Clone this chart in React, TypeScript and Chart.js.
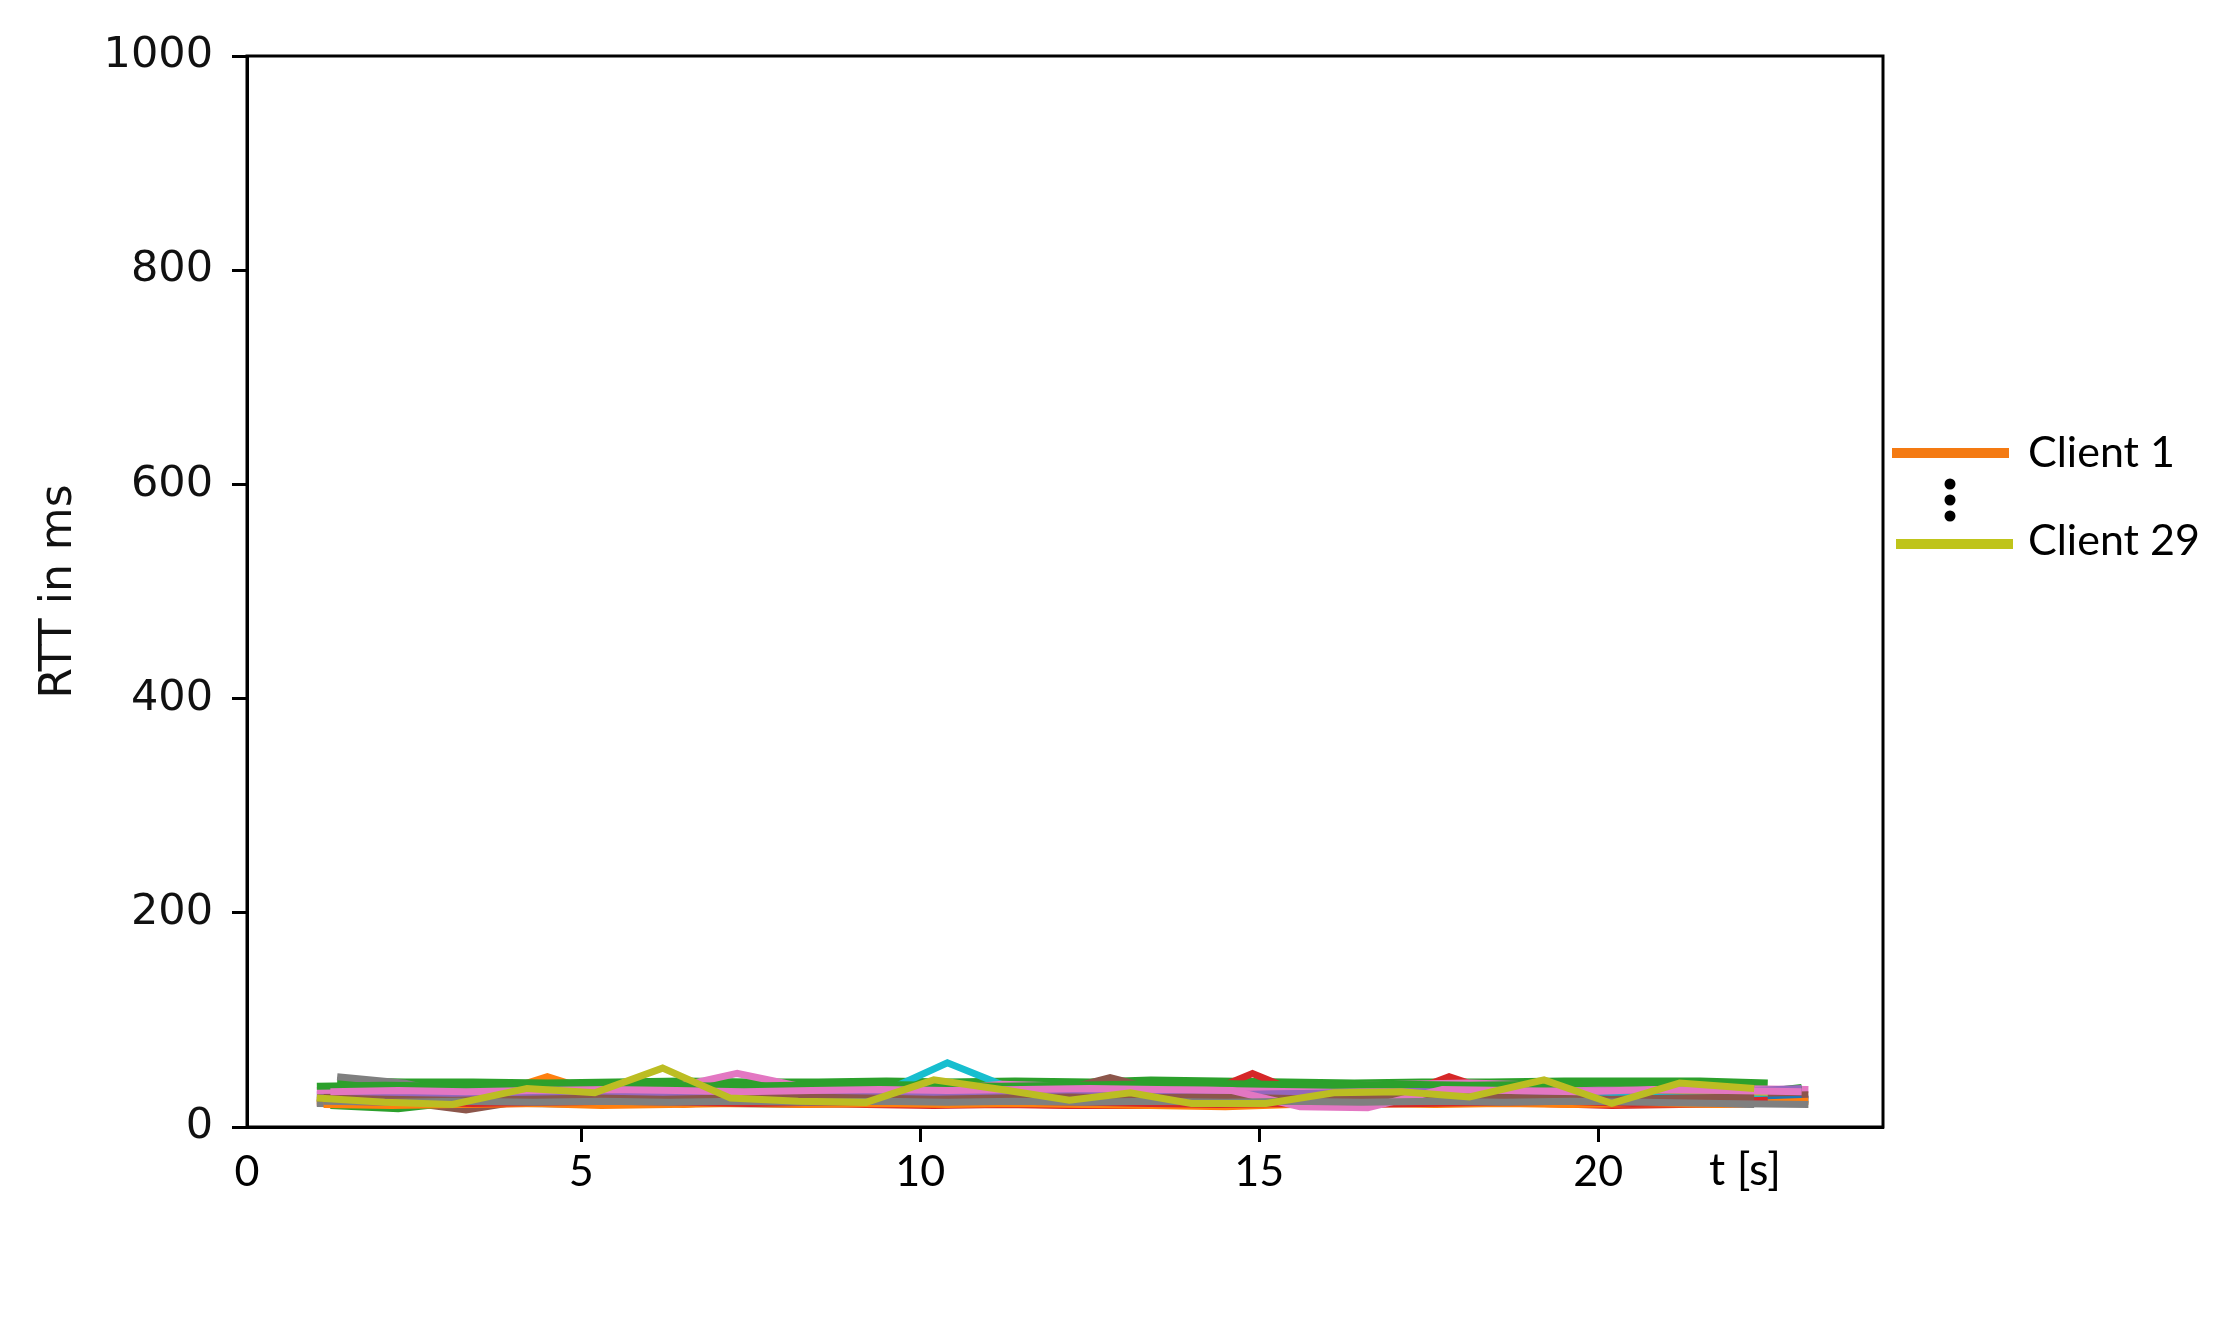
import React, { useEffect, useRef } from 'react';
import { Chart, registerables } from 'chart.js';

Chart.register(...registerables);

// ---- axis / label data ----
const X_TICKS = [0, 5, 10, 15, 20];
const Y_MIN = 0;
const Y_MAX = 1000;
const Y_STEP = 200;
const X_MIN = 0.07;
const X_MAX = 24.2;
const X_TITLE = 't [s]';
const Y_TITLE = 'RTT in ms';
const LEGEND_LABELS = ['Client 1', 'Client 29'];
const LEGEND_COLORS = ['#f47a12', '#bfc41a'];

// ---- sample times (s) ----
const T1 = [1.1, 2.1, 3.1, 4.2, 5.2, 6.2, 7.2, 8.2, 9.2, 10.2, 11.2, 12.2, 13.1, 14.0, 15.1, 16.1, 17.1, 18.1, 19.2, 20.2, 21.2, 22.3];
const T2 = [1.4, 2.4, 3.4, 4.5, 5.5, 6.5, 7.5, 8.5, 9.5, 10.4, 11.4, 12.5, 13.4, 14.4, 15.4, 16.4, 17.4, 18.4, 19.5, 20.5, 21.5, 22.5];
const T3 = [1.3, 2.3, 3.3, 4.3, 5.4, 6.4, 7.4, 8.4, 9.4, 10.4, 11.5, 12.5, 13.5, 14.6, 15.6, 16.6, 17.7, 18.7, 19.7, 20.8, 21.9, 23.0];
const T4 = [1.2, 2.2, 3.2, 4.3, 5.3, 6.3, 7.3, 8.3, 9.4, 10.4, 11.4, 12.4, 13.4, 14.5, 15.5, 16.5, 17.6, 18.6, 19.6, 20.7, 21.8, 23.1];
const T5 = [1.2, 2.3, 3.3, 4.4, 5.4, 6.5, 7.5, 8.6, 9.6, 10.7, 11.7, 12.8, 13.8, 14.9, 15.9, 16.8, 17.8, 18.8, 19.8, 20.8, 21.9, 22.9];

// ---- RTT values (ms) per client ----
const client01 = [28, 27, 29, 30, 29, 28, 30, 29, 28, 30, 29, 28, 29, 30, 28, 27, 29, 28, 27, 24, 27, 26];
const client02 = [22, 24, 25, 47, 27, 21, 26, 30, 29, 28, 27, 26, 22, 21, 24, 26, 25, 24, 23, 25, 24, 27];
const client03 = [43, 42, 42, 41, 42, 43, 42, 42, 43, 42, 43, 42, 44, 43, 42, 41, 42, 42, 43, 43, 43, 41];
const client04 = [26, 25, 24, 25, 26, 25, 24, 23, 24, 22, 21, 20, 21, 50, 24, 23, 47, 26, 22, 21, 22, 30];
const client05 = [30, 31, 30, 32, 31, 30, 31, 30, 31, 33, 32, 31, 30, 31, 30, 32, 33, 31, 30, 31, 33, 32];
const client06 = [26, 24, 16, 27, 28, 29, 28, 29, 28, 27, 28, 46, 30, 28, 29, 28, 27, 28, 27, 28, 29, 29];
const client07 = [36, 35, 36, 36, 35, 36, 50, 37, 36, 36, 37, 36, 35, 36, 37, 38, 38, 37, 36, 37, 36, 35];
const client08 = [47, 41, 27, 25, 24, 25, 24, 25, 24, 25, 24, 25, 24, 23, 24, 25, 24, 23, 24, 23, 23, 22];
const client09 = [25, 24, 25, 26, 25, 24, 25, 26, 25, 24, 25, 26, 25, 24, 25, 26, 25, 24, 25, 24, 25, 24];
const client10 = [29, 28, 29, 30, 29, 30, 29, 30, 31, 60, 32, 30, 29, 30, 29, 28, 29, 30, 29, 28, 29, 28];
const client11 = [33, 32, 33, 32, 33, 34, 33, 32, 33, 34, 33, 32, 33, 34, 33, 32, 33, 32, 31, 30, 29, 30];
const client12 = [30, 29, 28, 30, 31, 30, 31, 37, 36, 35, 36, 35, 34, 33, 32, 31, 32, 31, 30, 31, 30, 34];
const client13 = [20, 17, 24, 26, 27, 26, 27, 28, 27, 28, 27, 28, 27, 26, 27, 28, 27, 26, 27, 28, 29, 37];
const client14 = [23, 22, 21, 22, 23, 22, 23, 22, 21, 20, 21, 20, 20, 21, 22, 23, 24, 23, 22, 20, 21, 22];
const client15 = [31, 30, 29, 30, 31, 30, 29, 30, 31, 30, 32, 31, 30, 31, 32, 33, 34, 33, 32, 31, 33, 36];
const client16 = [28, 27, 26, 27, 28, 27, 28, 27, 28, 27, 28, 27, 28, 29, 28, 27, 28, 27, 28, 29, 28, 30];
const client17 = [34, 35, 34, 36, 35, 34, 35, 36, 35, 34, 40, 38, 37, 36, 37, 38, 40, 41, 39, 37, 36, 35];
const client18 = [22, 21, 22, 22, 21, 22, 22, 21, 22, 23, 22, 22, 23, 22, 22, 23, 22, 22, 23, 22, 22, 21];
const client19 = [26, 27, 26, 27, 28, 27, 26, 27, 26, 27, 26, 27, 31, 30, 29, 30, 31, 30, 29, 28, 29, 28];
const client20 = [27, 26, 27, 28, 27, 26, 27, 26, 27, 28, 27, 26, 27, 26, 27, 28, 27, 26, 27, 28, 27, 26];
const client21 = [25, 24, 25, 26, 25, 26, 25, 24, 25, 26, 25, 24, 25, 26, 25, 24, 23, 24, 25, 23, 24, 26];
const client22 = [21, 20, 21, 22, 20, 21, 22, 21, 22, 21, 22, 21, 20, 19, 21, 22, 21, 22, 21, 22, 21, 24];
const client23 = [38, 39, 38, 39, 40, 39, 38, 39, 40, 39, 38, 39, 40, 41, 40, 39, 40, 39, 40, 41, 40, 39];
const client24 = [24, 23, 22, 23, 24, 23, 22, 23, 24, 25, 24, 23, 22, 21, 22, 21, 22, 23, 24, 22, 23, 25];
const client25 = [29, 28, 29, 28, 29, 30, 29, 30, 29, 30, 31, 30, 29, 30, 31, 32, 31, 32, 33, 34, 35, 34];
const client26 = [27, 26, 25, 26, 27, 26, 27, 28, 27, 26, 27, 28, 27, 28, 27, 26, 27, 28, 27, 26, 27, 28];
const client27 = [33, 34, 33, 34, 35, 34, 33, 34, 35, 34, 35, 36, 35, 34, 19, 18, 35, 34, 33, 35, 34, 33];
const client28 = [24, 23, 24, 23, 24, 23, 24, 23, 24, 23, 24, 23, 24, 23, 24, 23, 24, 23, 24, 23, 22, 21];
const client29 = [27, 23, 21, 36, 32, 55, 27, 24, 23, 44, 35, 25, 32, 22, 22, 32, 33, 28, 44, 22, 41, 36];

const SERIES = [
  client01, client02, client03, client04, client05, client06, client07, client08, client09, client10,
  client11, client12, client13, client14, client15, client16, client17, client18, client19, client20,
  client21, client22, client23, client24, client25, client26, client27, client28, client29,
];
const SERIES_TIMES = [
  T4, T2, T2, T5, T1, T5, T4, T2, T1, T3,
  T2, T3, T3, T1, T3, T4, T1, T1, T2, T2,
  T3, T4, T1, T2, T2, T1, T3, T4, T1,
];
const COLORS = ['#1f77b4', '#ff7f0e', '#2ca02c', '#d62728', '#9467bd', '#8c564b', '#e377c2', '#7f7f7f', '#bcbd22', '#17becf'];

const extrasPlugin = {
  id: 'extras',
  afterDraw(chart: any) {
    const { ctx, chartArea: a } = chart;
    ctx.save();
    // full frame (matplotlib spines)
    ctx.strokeStyle = '#000';
    ctx.lineWidth = 3;
    ctx.strokeRect(a.left, a.top, a.right - a.left, a.bottom - a.top);

    // x axis title near the end of the axis
    ctx.fillStyle = '#000';
    ctx.font = '45px Lato';
    ctx.textAlign = 'left';
    ctx.textBaseline = 'alphabetic';
    ctx.fillText(X_TITLE, a.right - 174, a.bottom + 58);

    // custom legend
    ctx.lineCap = 'butt';
    ctx.lineWidth = 10;
    ctx.strokeStyle = LEGEND_COLORS[0];
    ctx.beginPath();
    ctx.moveTo(a.right + 9, 453);
    ctx.lineTo(a.right + 126, 453);
    ctx.stroke();
    ctx.strokeStyle = LEGEND_COLORS[1];
    ctx.beginPath();
    ctx.moveTo(a.right + 13, 544);
    ctx.lineTo(a.right + 130, 544);
    ctx.stroke();
    ctx.fillStyle = '#000';
    [484, 500, 516].forEach((y) => {
      ctx.beginPath();
      ctx.arc(a.right + 67, y, 5.5, 0, Math.PI * 2);
      ctx.fill();
    });
    ctx.font = '43px Lato';
    ctx.fillText(LEGEND_LABELS[0], a.right + 145, 467);
    ctx.fillText(LEGEND_LABELS[1], a.right + 145, 555);
    ctx.restore();
  },
};

export default function App() {
  const ref = useRef<HTMLCanvasElement | null>(null);
  useEffect(() => {
    if (!ref.current) return;
    const datasets = SERIES.map((vals, i) => ({
      label: `Client ${i + 1}`,
      data: vals.map((v, k) => ({ x: SERIES_TIMES[i][k], y: v })),
      borderColor: COLORS[i % 10],
      backgroundColor: COLORS[i % 10],
      borderWidth: 7,
      pointRadius: 0,
      fill: false,
      tension: 0,
      order: SERIES.length - i,
    }));
    const tickGrid = (hideFirst: boolean) => ({
      display: true,
      drawOnChartArea: false,
      drawTicks: true,
      tickLength: 15,
      tickWidth: 3,
      tickColor: (c: any) => (hideFirst && c.tick && c.tick.value < 1 ? 'rgba(0,0,0,0)' : '#000'),
    });
    const chart = new Chart(ref.current, {
      type: 'line',
      data: { datasets },
      options: {
        animation: false,
        responsive: false,
        layout: { padding: { top: 56, right: 353, left: 0, bottom: 0 } },
        plugins: { legend: { display: false }, tooltip: { enabled: false } },
        scales: {
          x: {
            type: 'linear',
            min: X_MIN,
            max: X_MAX,
            afterBuildTicks: (s: any) => {
              s.ticks = X_TICKS.map((v) => ({ value: v === 0 ? X_MIN : v }));
            },
            ticks: {
              callback: (v: any) => (v < 1 ? '0' : String(v)),
              font: { family: 'Lato', size: 43 },
              color: '#000',
              padding: 4,
              maxRotation: 0,
              autoSkip: false,
            },
            grid: tickGrid(true),
            border: { display: true, color: '#000', width: 3 },
            afterFit: (s: any) => {
              s.height = 211;
            },
          },
          y: {
            min: Y_MIN,
            max: Y_MAX,
            ticks: {
              stepSize: Y_STEP,
              callback: (v: any) => String(v),
              font: { family: 'DejaVu Sans', size: 43 },
              color: '#111',
              padding: 19,
            },
            grid: tickGrid(false),
            border: { display: true, color: '#000', width: 3 },
            title: {
              display: true,
              text: Y_TITLE,
              font: { family: 'DejaVu Sans', size: 44 },
              color: '#111',
              padding: { top: 33, bottom: 0 },
            },
            afterFit: (s: any) => {
              s.width = 247;
            },
          },
        },
      } as any,
      plugins: [extrasPlugin],
    });
    return () => chart.destroy();
  }, []);
  return (
    <div style={{ position: 'fixed', left: 0, top: 0, width: 2236, height: 1338, background: '#fff' }}>
      <canvas ref={ref} width={2236} height={1338} style={{ display: 'block' }} />
    </div>
  );
}
